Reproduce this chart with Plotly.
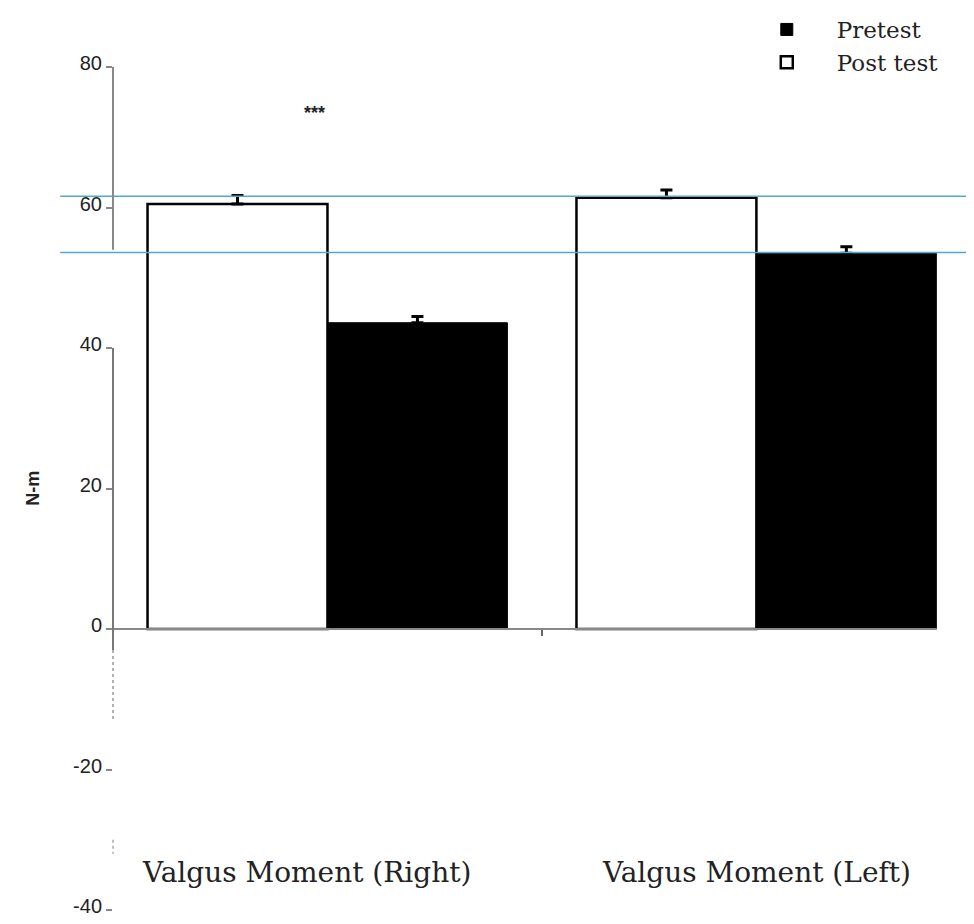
import plotly.graph_objects as go

categories = ["Valgus Moment (Right)", "Valgus Moment (Left)"]
post_test = [60.5, 61.4]
pretest = [43.6, 53.5]
post_err = [1.2, 1.1]
pre_err = [0.9, 0.9]
y_ticks = [-40, -20, 0, 20, 40, 60, 80]
y_tick_text = ["-40", "-20", "0", "20", "40", "60", "80"]
ref_lines = [61.6, 53.6]
x_pos = [0, 1]

fig = go.Figure()
fig.add_trace(go.Bar(
    x=x_pos, y=post_test, name="Post test",
    marker=dict(color="white", line=dict(color="black", width=2.5)),
    error_y=dict(type="data", symmetric=False, array=post_err,
                 arrayminus=[0, 0], color="black", thickness=3, width=6),
))
fig.add_trace(go.Bar(
    x=x_pos, y=pretest, name="Pretest",
    marker=dict(color="black", line=dict(color="black", width=1)),
    error_y=dict(type="data", symmetric=False, array=pre_err,
                 arrayminus=[0, 0], color="black", thickness=3, width=6),
))

shapes = []
for v in ref_lines:
    shapes.append(dict(type="line", xref="paper", yref="y", x0=-0.062, x1=1.01,
                       y0=v, y1=v, line=dict(color="rgb(80,170,200)", width=1.5)))
# zero line
shapes.append(dict(type="line", xref="paper", yref="y", x0=-0.008, x1=0.968, y0=0, y1=0,
                   line=dict(color="#888", width=2)))
# broken y-axis line
shapes.append(dict(type="line", xref="paper", yref="y", x0=0, x1=0, y0=80, y1=54,
                   line=dict(color="#888", width=2)))
shapes.append(dict(type="line", xref="paper", yref="y", x0=0, x1=0, y0=40, y1=-3,
                   line=dict(color="#777", width=2)))
shapes.append(dict(type="line", xref="paper", yref="y", x0=0, x1=0, y0=-3, y1=-13,
                   line=dict(color="#999", width=1.5, dash="dot")))
shapes.append(dict(type="line", xref="paper", yref="y", x0=0, x1=0, y0=-30, y1=-32,
                   line=dict(color="#aaa", width=1.5, dash="dot")))
fig.update_layout(shapes=shapes)

annotations = [
    dict(x=x_pos[0] - 0.05, y=-34.6, xref="x", yref="y", text=categories[0], showarrow=False,
         font=dict(family="DejaVu Serif", size=28, color="#222")),
    dict(x=x_pos[1], y=-34.6, xref="x", yref="y", text=categories[1], showarrow=False,
         font=dict(family="DejaVu Serif", size=28, color="#222")),
    dict(x=-0.03, y=73.5, xref="x", yref="y", text="<b>***</b>", showarrow=False,
         font=dict(family="Liberation Sans", size=18, color="#222")),
    dict(x=-0.109, y=20, xref="paper", yref="y", text="<b>N-m</b>", showarrow=False,
         textangle=-90, font=dict(family="Liberation Sans", size=18, color="#222")),
]
fig.update_layout(annotations=annotations)

fig.update_layout(
    width=958, height=908,
    margin=dict(l=105, r=2, t=0, b=6, autoexpand=False),
    paper_bgcolor="white", plot_bgcolor="white",
    barmode="group", bargap=0.161, bargroupgap=0,
    showlegend=True,
    legend=dict(x=0.733, y=1.0, xanchor="left", yanchor="top", traceorder="reversed",
                font=dict(family="DejaVu Serif", size=23, color="#222"),
                itemwidth=90, bgcolor="rgba(0,0,0,0)", tracegroupgap=0,
                borderwidth=0),
    xaxis=dict(range=[-0.5, 1.484], showticklabels=False, showgrid=False, zeroline=False,
               anchor="free", position=40/128.4, showline=False,
               tickmode="array", tickvals=[0.5], ticks="outside", ticklen=6,
               tickcolor="#666", tickwidth=1.5),
    yaxis=dict(range=[-40, 88.4], tickmode="array", tickvals=y_ticks, ticktext=y_tick_text,
               showgrid=False, zeroline=False, automargin=False, ticklabeloverflow="allow",
               ticklabelshift=-4,
               showline=False, ticks="outside", ticklen=6, tickcolor="#888", tickwidth=1.5,
               tickfont=dict(family="Liberation Sans", size=20, color="#222")),
)
fig.write_html("out.html")
